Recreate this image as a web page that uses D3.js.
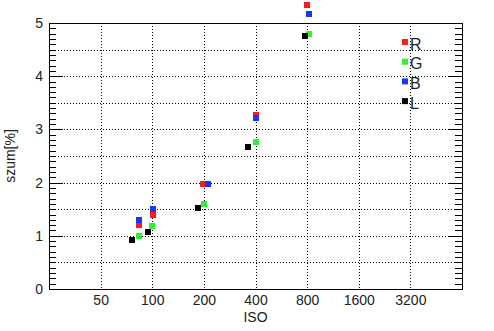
<!DOCTYPE html>
<html>
<head>
<meta charset="utf-8">
<script src="https://cdn.jsdelivr.net/npm/d3@7"></script>
<style>
  body { margin: 0; background: #fff; }
  svg { display: block; font-family: "Liberation Sans", Arial, sans-serif; }
  .tick text { fill: #222; }
</style>
</head>
<body>
<svg id="chart" width="494" height="331"></svg>
<script>
// ISO tick labels on the log2 x axis
const isoTicks = [50, 100, 200, 400, 800, 1600, 3200];

// noise [%] per channel; each channel has its own ISO position
const seriesNames = ['R', 'G', 'B', 'L'];
const seriesColors = ['#ff1a1a', '#33f033', '#1a33ff', '#000000'];
const isoR = [84, 101, 198, 400, 800];
const valR = [1.20, 1.40, 1.98, 3.28, 5.34];
const isoG = [84, 99, 200, 400, 815];
const valG = [1.00, 1.19, 1.60, 2.76, 4.79];
const isoB = [84, 101, 211, 400, 815];
const valB = [1.30, 1.50, 1.98, 3.21, 5.17];
const isoL = [76, 94, 185, 362, 775];
const valL = [0.93, 1.08, 1.53, 2.67, 4.76];

const series = [
    { name: 'R', iso: isoR, val: valR },
    { name: 'G', iso: isoG, val: valG },
    { name: 'B', iso: isoB, val: valB },
    { name: 'L', iso: isoL, val: valL }
];

const svg = d3.select('#chart');
const plotL = 49, plotR = 462, plotT = 23, plotB = 289;

const x = d3.scaleLog().base(2).domain([25, 6400]).range([plotL, plotR]);
const y = d3.scaleLinear().domain([0, 5]).range([plotB, plotT]);
const color = d3.scaleOrdinal().domain(seriesNames).range(seriesColors);

const minorVals = d3.range(0, 51).map(d => d / 10);
const majorVals = [0, 1, 2, 3, 4, 5];
const gridY = [0.5, 1, 1.5, 2, 2.5, 3, 3.5, 4, 4.5];

// dotted grid
svg.append('g')
    .selectAll('line')
    .data(gridY)
    .join('line')
    .attr('x1', plotL).attr('x2', plotR)
    .attr('y1', d => Math.round(y(d)) + 0.5).attr('y2', d => Math.round(y(d)) + 0.5)
    .attr('stroke', '#000')
    .attr('stroke-dasharray', '1,2');

svg.append('g')
    .selectAll('line')
    .data(isoTicks)
    .join('line')
    .attr('x1', d => Math.round(x(d)) + 0.5).attr('x2', d => Math.round(x(d)) + 0.5)
    .attr('y1', plotT).attr('y2', plotB)
    .attr('stroke', '#000')
    .attr('stroke-dasharray', '1,2');

// minor + major inward ticks, left and right
function inwardTicks(x0, dir) {
    const g = svg.append('g');
    g.selectAll('line.minor')
        .data(minorVals)
        .join('line')
        .attr('class', 'minor')
        .attr('x1', x0).attr('x2', x0 + dir * 7)
        .attr('y1', d => Math.round(y(d)) + 0.5).attr('y2', d => Math.round(y(d)) + 0.5)
        .attr('stroke', '#000');
    g.selectAll('line.major')
        .data(majorVals)
        .join('line')
        .attr('class', 'major')
        .attr('x1', x0).attr('x2', x0 + dir * 14)
        .attr('y1', d => Math.round(y(d)) + 0.5).attr('y2', d => Math.round(y(d)) + 0.5)
        .attr('stroke', '#000');
}
inwardTicks(plotL, 1);
inwardTicks(plotR, -1);

// frame
svg.append('rect')
    .attr('x', plotL + 0.5).attr('y', plotT + 0.5)
    .attr('width', plotR - plotL).attr('height', plotB - plotT)
    .attr('fill', 'none')
    .attr('stroke', '#000');

// tick labels
svg.append('g')
    .attr('transform', `translate(${plotL},0)`)
    .call(d3.axisLeft(y).tickValues(majorVals).tickFormat(d3.format('d')).tickSize(0).tickPadding(6))
    .call(g => g.select('.domain').remove())
    .selectAll('text')
    .attr('font-size', 14);

svg.append('g')
    .attr('transform', `translate(0,${plotB})`)
    .call(d3.axisBottom(x).tickValues(isoTicks).tickFormat(d3.format('d')).tickSize(0).tickPadding(6))
    .call(g => g.select('.domain').remove())
    .selectAll('text')
    .attr('font-size', 14);

// axis titles
svg.append('text')
    .attr('x', (plotL + plotR) / 2)
    .attr('y', 322)
    .attr('text-anchor', 'middle')
    .attr('font-size', 14)
    .attr('fill', '#222')
    .text('ISO');

svg.append('text')
    .attr('transform', 'translate(15,156) rotate(-90)')
    .attr('text-anchor', 'middle')
    .attr('font-size', 14)
    .attr('fill', '#222')
    .text('szum[%]');

// points
const sz = 6;
series.forEach(s => {
    svg.append('g')
        .selectAll('rect')
        .data(s.iso.map((iso, i) => ({ iso: iso, v: s.val[i] })))
        .join('rect')
        .attr('x', d => Math.round(x(d.iso) - sz / 2))
        .attr('y', d => Math.round(y(d.v) - sz / 2))
        .attr('width', sz).attr('height', sz)
        .attr('fill', color(s.name));
});

// legend
const legend = svg.append('g').attr('transform', 'translate(402,39)');
seriesNames.forEach((name, i) => {
    const row = legend.append('g').attr('transform', `translate(0,${i * 19.7})`);
    row.append('rect')
        .attr('width', sz).attr('height', sz)
        .attr('fill', color(name));
    row.append('text')
        .attr('x', 8).attr('y', 10.5)
        .attr('font-size', 16)
        .attr('fill', '#222')
        .text(name);
});
</script>
</body>
</html>
